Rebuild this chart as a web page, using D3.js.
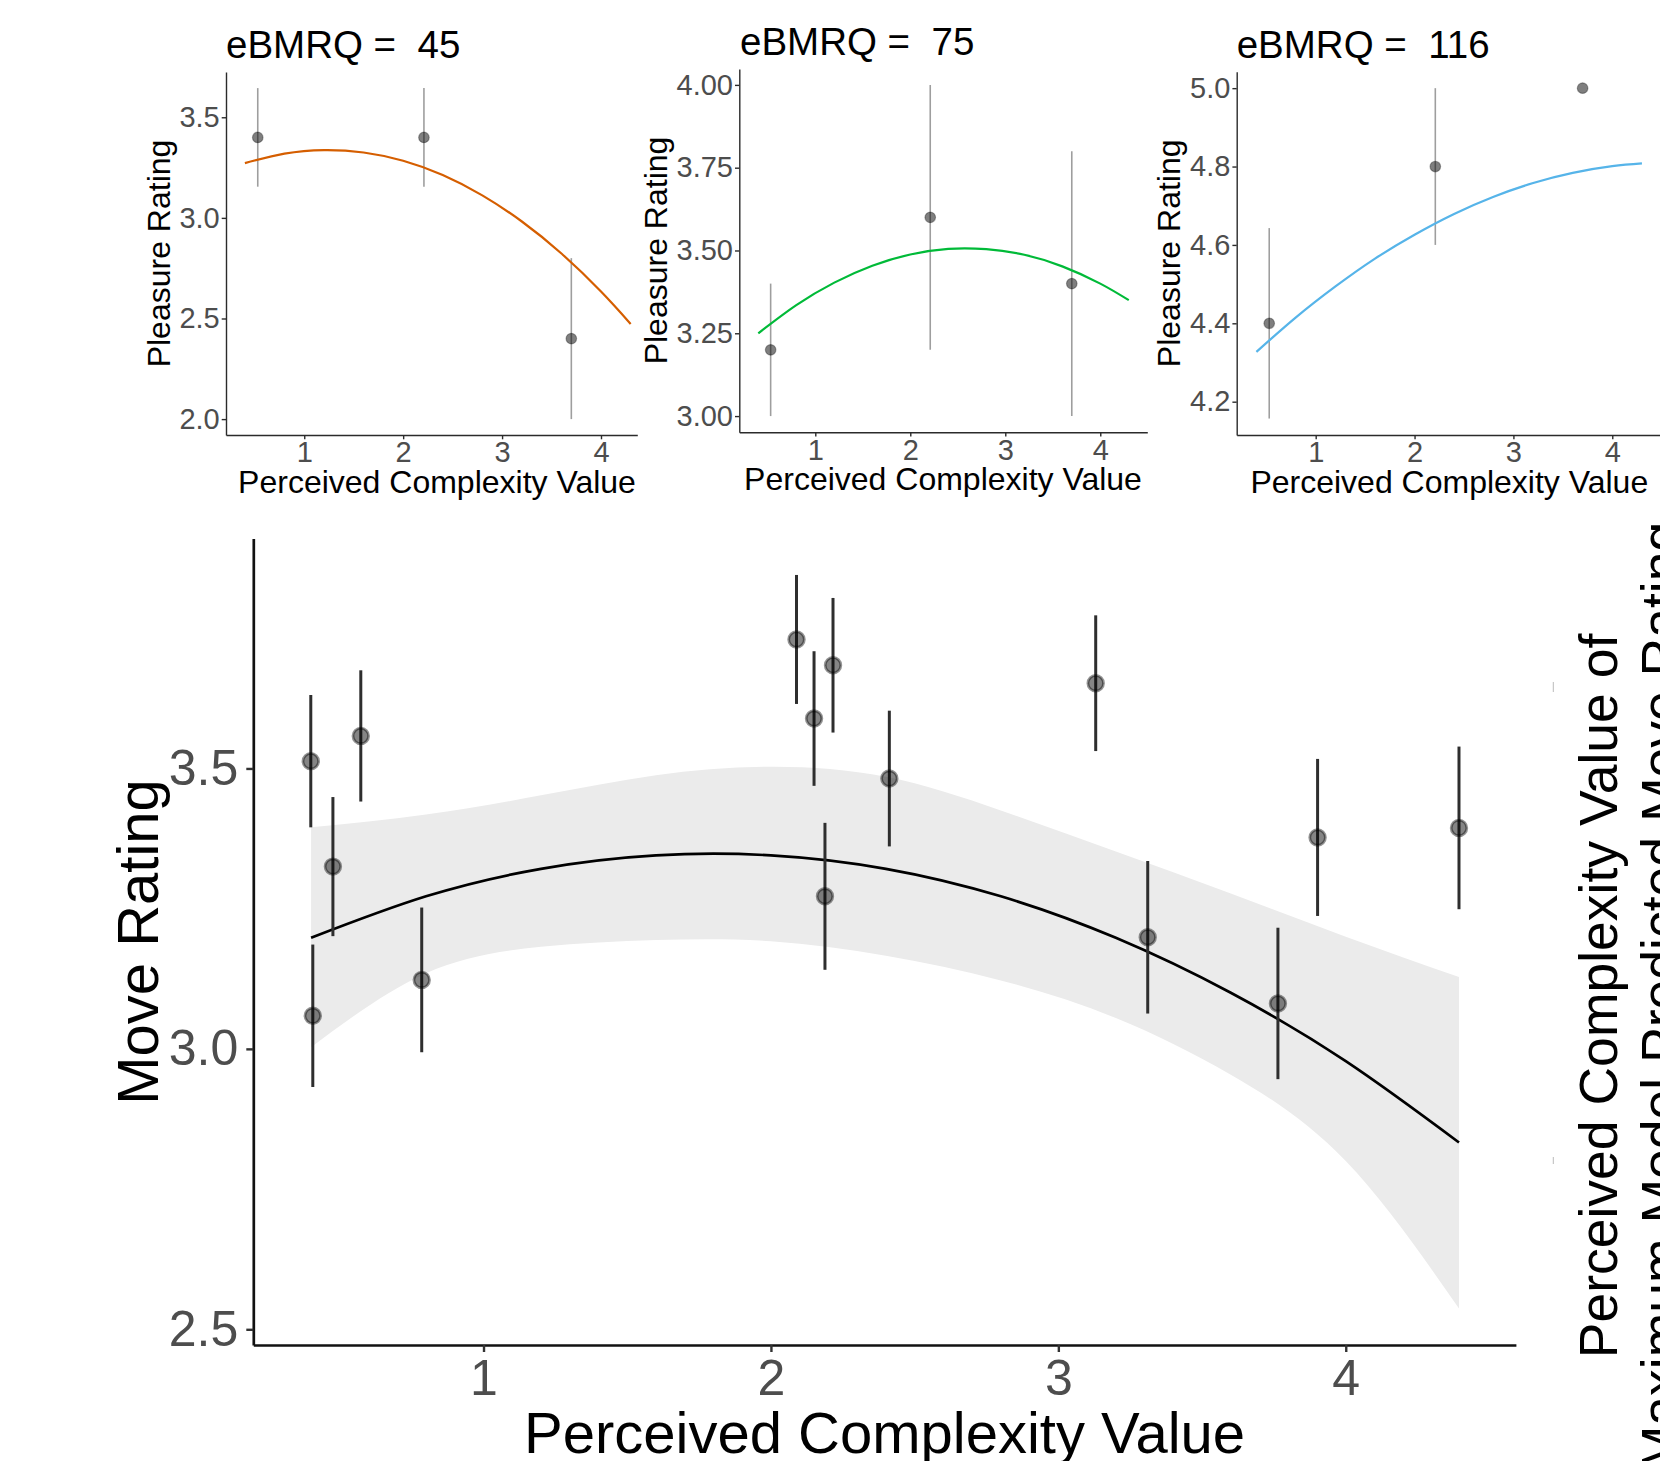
<!DOCTYPE html>
<html><head><meta charset="utf-8">
<script src="https://cdn.jsdelivr.net/npm/d3@7"></script>
<style>
body{margin:0;background:#fff}
svg{display:block}
</style>
</head><body>
<svg id="c" width="1660" height="1461"></svg>
<script>
// ---------------- DATA ----------------
const panelTitles = ["eBMRQ =  45", "eBMRQ =  75", "eBMRQ =  116"];
const panelXTicks = [1, 2, 3, 4];
const panelPointX = [0.53, 2.21, 3.70];

const panel45Y = [3.4, 3.4, 2.4];
const panel45Err = [0.245, 0.245, 0.40];
const panel45YTicks = [2.0, 2.5, 3.0, 3.5];

const panel75Y = [3.2, 3.6, 3.4];
const panel75Err = [0.2, 0.4, 0.4];
const panel75YTicks = [3.00, 3.25, 3.50, 3.75, 4.00];

const panel116Y = [4.4, 4.8, 5.0];
const panel116Err = [0.243, 0.2, 0];
const panel116YTicks = [4.2, 4.4, 4.6, 4.8, 5.0];

const panelFitX = [0.4, 0.8, 1.2, 1.6, 2.0, 2.4, 2.8, 3.2, 3.6, 4.0, 4.3];
const panel45Fit = [3.272, 3.319, 3.337, 3.325, 3.284, 3.213, 3.112, 2.982, 2.823, 2.634, 2.473];
const panel75Fit = [3.250, 3.335, 3.403, 3.454, 3.488, 3.505, 3.504, 3.487, 3.452, 3.400, 3.350];
const panel116Fit = [4.327, 4.415, 4.494, 4.565, 4.626, 4.679, 4.723, 4.758, 4.784, 4.801, 4.808];

const mainX = [0.399, 0.406, 0.476, 0.573, 0.785, 2.089, 2.150, 2.216, 2.188, 2.412, 3.130, 3.311, 3.764, 3.902, 4.394];
const mainY = [3.513, 3.059, 3.325, 3.558, 3.123, 3.730, 3.589, 3.684, 3.272, 3.482, 3.652, 3.199, 3.081, 3.377, 3.394];
const mainErr = [0.118, 0.127, 0.124, 0.117, 0.129, 0.115, 0.120, 0.120, 0.131, 0.121, 0.121, 0.136, 0.135, 0.140, 0.145];

const mainFitX = [0.4, 0.8, 1.2, 1.6, 2.0, 2.4, 2.8, 3.2, 3.6, 4.0, 4.394];
const mainFit = [3.198, 3.272, 3.321, 3.345, 3.345, 3.321, 3.272, 3.198, 3.100, 2.978, 2.833];
const mainUpper = [3.395, 3.418, 3.452, 3.488, 3.503, 3.485, 3.425, 3.352, 3.277, 3.200, 3.128];
const mainLower = [3.003, 3.135, 3.182, 3.194, 3.192, 3.166, 3.122, 3.055, 2.954, 2.800, 2.537];
const mainXTicks = [1, 2, 3, 4];
const mainYTicks = [2.5, 3.0, 3.5];

const xTitle = "Perceived Complexity Value";
const panelYTitle = "Pleasure Rating";
const mainYTitle = "Move Rating";
const sideTitle = ["Perceived Complexity Value of", "Maximum Model Predicted Move Rating"];

// ---------------- DRAW ----------------
const FONT = '"Liberation Sans", Arial, Helvetica, sans-serif';
const svg = d3.select("#c");

const panels = [
  {title: panelTitles[0], tX: 226, tY: 58.3, xr: [226, 637.3], xd: [0.209, 4.367], yr: [435, 72], yd: [1.921, 3.725],
   ticks: panel45YTicks, fmt: d3.format(".1f"), ys: panel45Y, errs: panel45Err, fit: panel45Fit, color: "#D55E00",
   xtX: 437, xtY: 493, ytX: 170, ytY: 253.5},
  {title: panelTitles[1], tX: 740, tY: 55, xr: [739.3, 1147.3], xd: [0.2, 4.495], yr: [432.3, 69], yd: [2.951, 4.048],
   ticks: panel75YTicks, fmt: d3.format(".2f"), ys: panel75Y, errs: panel75Err, fit: panel75Fit, color: "#00BA38",
   xtX: 943, xtY: 490, ytX: 666.7, ytY: 250.5},
  {title: panelTitles[2], tX: 1236.7, tY: 58.3, xr: [1236.7, 1662], xd: [0.201, 4.503], yr: [435, 71.7], yd: [4.115, 5.042],
   ticks: panel116YTicks, fmt: d3.format(".1f"), ys: panel116Y, errs: panel116Err, fit: panel116Fit, color: "#56B4E9",
   xtX: 1449.3, xtY: 493.3, ytX: 1180, ytY: 253.3}
];

panels.forEach(p => {
  const x = d3.scaleLinear().domain(p.xd).range(p.xr);
  const y = d3.scaleLinear().domain(p.yd).range(p.yr);
  const g = svg.append("g");

  const ax = g.append("g").attr("transform", `translate(0,${p.yr[0]})`)
    .call(d3.axisBottom(x).tickValues(panelXTicks).tickFormat(d3.format("d")).tickSize(4.3).tickSizeOuter(0).tickPadding(2.5));
  const ay = g.append("g").attr("transform", `translate(${p.xr[0]},0)`)
    .call(d3.axisLeft(y).tickValues(p.ticks).tickFormat(p.fmt).tickSize(4.3).tickSizeOuter(0).tickPadding(2));
  [ax, ay].forEach(a => {
    a.attr("font-family", FONT).attr("font-size", 29);
    a.select(".domain").attr("stroke", "#2b2b2b").attr("stroke-width", 1.4);
    a.selectAll(".tick line").attr("stroke", "#2b2b2b").attr("stroke-width", 1.4);
    a.selectAll(".tick text").attr("fill", "#4d4d4d");
  });

  // error bars
  const eb = panelPointX.map((v, i) => ({x: v, y: p.ys[i], e: p.errs[i]})).filter(d => d.e > 0);
  g.append("g").selectAll("line").data(eb).join("line")
    .attr("x1", d => x(d.x)).attr("x2", d => x(d.x))
    .attr("y1", d => y(d.y + d.e)).attr("y2", d => y(d.y - d.e))
    .attr("stroke", "#000").attr("stroke-opacity", 0.38).attr("stroke-width", 1.6);

  // fit curve
  const line = d3.line().x(d => x(d[0])).y(d => y(d[1])).curve(d3.curveNatural);
  g.append("path").datum(panelFitX.map((v, i) => [v, p.fit[i]]))
    .attr("d", line).attr("fill", "none").attr("stroke", p.color).attr("stroke-width", 2.2);

  // points
  g.append("g").selectAll("circle").data(panelPointX).join("circle")
    .attr("cx", d => x(d)).attr("cy", (d, i) => y(p.ys[i])).attr("r", 5.3)
    .attr("fill", "#000").attr("fill-opacity", 0.5)
    .attr("stroke", "#000").attr("stroke-opacity", 0.3).attr("stroke-width", 1.2);

  // titles
  g.append("text").attr("x", p.tX).attr("y", p.tY).text(p.title)
    .attr("font-family", FONT).attr("font-size", 38.5).attr("fill", "#000").style("white-space", "pre");
  g.append("text").attr("x", p.xtX).attr("y", p.xtY).text(xTitle).attr("text-anchor", "middle")
    .attr("font-family", FONT).attr("font-size", 32).attr("fill", "#000");
  g.append("text").attr("transform", `translate(${p.ytX},${p.ytY}) rotate(-90)`).text(panelYTitle)
    .attr("text-anchor", "middle").attr("font-family", FONT).attr("font-size", 32).attr("fill", "#000");
});

// ---------------- MAIN ----------------
const mx = d3.scaleLinear().domain([0.199, 4.592]).range([253.3, 1515.9]);
const my = d3.scaleLinear().domain([2.472, 3.910]).range([1345, 538.5]);
const mg = svg.append("g");

// confidence band
const band = d3.area().x(d => mx(d[0])).y0(d => my(d[1])).y1(d => my(d[2])).curve(d3.curveNatural);
mg.append("path").datum(mainFitX.map((v, i) => [v, mainLower[i], mainUpper[i]]))
  .attr("d", band).attr("fill", "#ebebeb");

// fit line
const mline = d3.line().x(d => mx(d[0])).y(d => my(d[1])).curve(d3.curveNatural);
mg.append("path").datum(mainFitX.map((v, i) => [v, mainFit[i]]))
  .attr("d", mline).attr("fill", "none").attr("stroke", "#000").attr("stroke-width", 2.7);

// error bars
mg.append("g").selectAll("line").data(mainX).join("line")
  .attr("x1", d => mx(d)).attr("x2", d => mx(d))
  .attr("y1", (d, i) => my(mainY[i] + mainErr[i]))
  .attr("y2", (d, i) => my(mainY[i] - mainErr[i]))
  .attr("stroke", "#2e2e2e").attr("stroke-width", 3);

// points
mg.append("g").selectAll("circle").data(mainX).join("circle")
  .attr("cx", d => mx(d)).attr("cy", (d, i) => my(mainY[i])).attr("r", 7.8)
  .attr("fill", "#000").attr("fill-opacity", 0.48)
  .attr("stroke", "#000").attr("stroke-opacity", 0.42).attr("stroke-width", 2.8);

// axes
const max = mg.append("g").attr("transform", "translate(0,1345)")
  .call(d3.axisBottom(mx).tickValues(mainXTicks).tickFormat(d3.format("d")).tickSize(7).tickSizeOuter(0).tickPadding(7));
const may = mg.append("g").attr("transform", "translate(253.3,0)")
  .call(d3.axisLeft(my).tickValues(mainYTicks).tickFormat(d3.format(".1f")).tickSize(7).tickSizeOuter(0).tickPadding(8));
[max, may].forEach(a => {
  a.attr("font-family", FONT).attr("font-size", 50);
  a.select(".domain").attr("stroke", "#111").attr("stroke-width", 2.7);
  a.selectAll(".tick line").attr("stroke", "#333").attr("stroke-width", 2.4);
  a.selectAll(".tick text").attr("fill", "#4d4d4d");
});

// titles
mg.append("text").attr("x", 884.6).attr("y", 1453).text(xTitle).attr("text-anchor", "middle")
  .attr("font-family", FONT).attr("font-size", 58).attr("fill", "#000");
mg.append("text").attr("transform", "translate(158.3,942) rotate(-90)").text(mainYTitle)
  .attr("text-anchor", "middle").attr("font-family", FONT).attr("font-size", 58).attr("fill", "#000");

// right side title (two lines, rotated)
const sideG = svg.append("g").attr("transform", "translate(1616.7,996) rotate(-90)");
sideG.selectAll("text").data(sideTitle).join("text")
  .attr("x", 0).attr("y", (d, i) => i * 62).text(d => d)
  .attr("text-anchor", "middle").attr("font-family", FONT).attr("font-size", 53.5).attr("fill", "#000");

// faint marks at right
svg.append("line").attr("x1", 1553.3).attr("x2", 1553.3).attr("y1", 682).attr("y2", 692).attr("stroke", "#bbb").attr("stroke-width", 1);
svg.append("line").attr("x1", 1553.3).attr("x2", 1553.3).attr("y1", 1157).attr("y2", 1164).attr("stroke", "#bbb").attr("stroke-width", 1);
</script>
</body></html>
